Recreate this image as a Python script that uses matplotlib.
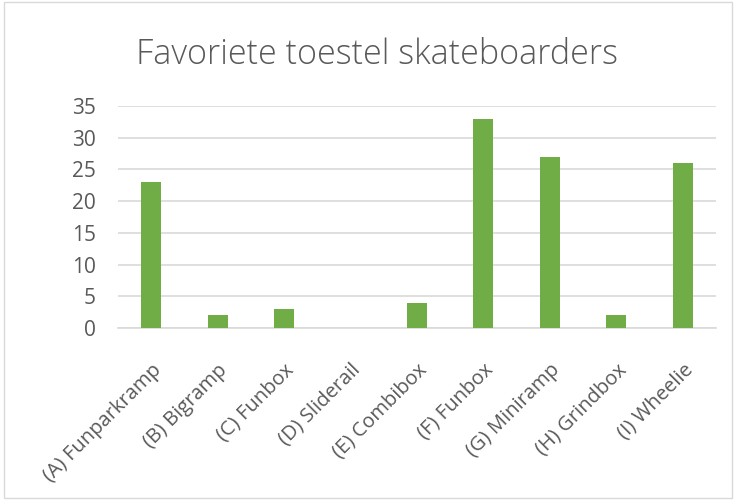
import matplotlib
matplotlib.use("Agg")
import matplotlib.pyplot as plt
from matplotlib.patches import Rectangle

categories = ["(A) Funparkramp", "(B) Bigramp", "(C) Funbox", "(D) Sliderail",
              "(E) Combibox", "(F) Funbox", "(G) Miniramp", "(H) Grindbox", "(I) Wheelie"]
values = [23, 2, 3, 0, 4, 33, 27, 2, 26]
yticks = [0, 5, 10, 15, 20, 25, 30, 35]

plt.rcParams['font.family'] = ['Open Sans', 'DejaVu Sans']
txt = '#595959'

fig = plt.figure(figsize=(7.36, 5.0), dpi=100)
fig.patches.append(Rectangle((0.006, 0.004), 0.988, 0.992, transform=fig.transFigure,
                             fill=False, edgecolor='#d9d9d9', linewidth=1))
ax = fig.add_axes([0.1603, 0.344, 0.8125, 0.444])
x = list(range(len(categories)))
ax.bar(x, values, width=0.3, color='#70ad47', zorder=3)
ax.set_xlim(-0.5, len(categories) - 0.5)
ax.set_ylim(0, 35)
ax.set_yticks(yticks)
ax.set_yticklabels([str(t) for t in yticks], color=txt, fontsize=15)
ax.set_xticks(x)
ax.set_xticklabels(categories, rotation=45, ha='right', va='top', rotation_mode='anchor',
                   color=txt, fontsize=14.5)
ax.tick_params(axis='y', length=0, pad=16)
ax.tick_params(axis='x', length=0, pad=23)
ax.grid(axis='y', color='#d9d9d9', linewidth=1.2, zorder=0)
for s in ['top', 'right', 'left']:
    ax.spines[s].set_visible(False)
ax.spines['bottom'].set_color('#d9d9d9')
ax.spines['bottom'].set_linewidth(1.2)
fig.text(0.5125, (500 - 64) / 500, "Favoriete toestel skateboarders", ha='center', va='baseline',
         fontsize=24.6, color=txt, fontweight='light')
fig.savefig("out.png", dpi=100)
